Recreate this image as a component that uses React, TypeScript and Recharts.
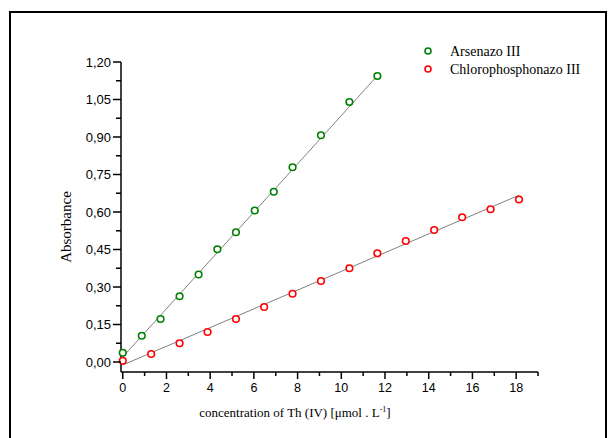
import { ScatterChart, Scatter, XAxis, YAxis, Legend, Label } from "recharts";

// Arsenazo III
const arsenazoX = [0, 0.87, 1.73, 2.6, 3.47, 4.33, 5.18, 6.04, 6.91, 7.77, 9.07, 10.37, 11.65];
const arsenazoY = [0.037, 0.105, 0.172, 0.263, 0.35, 0.451, 0.519, 0.606, 0.681, 0.779, 0.907, 1.04, 1.144];

// Chlorophosphonazo III
const chloroX = [0, 1.3, 2.6, 3.88, 5.18, 6.47, 7.77, 9.07, 10.37, 11.65, 12.95, 14.25, 15.53, 16.83, 18.13];
const chloroY = [0.005, 0.032, 0.075, 0.12, 0.172, 0.22, 0.273, 0.324, 0.375, 0.435, 0.484, 0.528, 0.579, 0.611, 0.65];

// fitted lines (end points)
const arsenazoFitX = [0, 11.65];
const arsenazoFitY = [0.02, 1.145];
const chloroFitX = [0, 18.13];
const chloroFitY = [-0.012, 0.667];

// ticks
const xTicks = [0, 1, 2, 3, 4, 5, 6, 7, 8, 9, 10, 11, 12, 13, 14, 15, 16, 17, 18, 19];
const xLabelTicks = [0, 2, 4, 6, 8, 10, 12, 14, 16, 18];
const yMajorTicks = [0, 0.15, 0.3, 0.45, 0.6, 0.75, 0.9, 1.05, 1.2];
const yMinorTicks = [0.075, 0.225, 0.375, 0.525, 0.675, 0.825, 0.975, 1.125];

const GREEN = "#008000";
const RED = "#ff0000";
const FIT = "#808080";

const zip = (xs: number[], ys: number[]) => xs.map((x, i) => ({ x, y: ys[i] }));

const arsenazoData = zip(arsenazoX, arsenazoY);
const chloroData = zip(chloroX, chloroY);
const arsenazoFit = zip(arsenazoFitX, arsenazoFitY);
const chloroFit = zip(chloroFitX, chloroFitY);

const series = [
  { name: "Arsenazo III", color: GREEN },
  { name: "Chlorophosphonazo III", color: RED },
];

const sans = "'Liberation Sans', Arial, sans-serif";
const serif = "'Liberation Serif', 'Times New Roman', serif";

const XTick = (props: any) => {
  const { x, y, payload } = props;
  const major = xLabelTicks.includes(payload.value);
  return (
    <g>
      <line x1={x} y1={y} x2={x} y2={y + (major ? 7 : 4)} stroke="#000" strokeWidth={1.5} />
      {major && (
        <text x={x} y={y + 20} textAnchor="middle" fontFamily={sans} fontSize={12.5} fill="#000">
          {payload.value}
        </text>
      )}
    </g>
  );
};

const YTick = (props: any) => {
  const { x, y, payload } = props;
  const major = yMajorTicks.some((t) => Math.abs(t - payload.value) < 1e-6);
  return (
    <g>
      <line x1={x} y1={y} x2={x - (major ? 8 : 5)} y2={y} stroke="#000" strokeWidth={1.5} />
      {major && (
        <text x={x - 10} y={y + 4.5} textAnchor="end" fontFamily={sans} fontSize={13} fill="#000">
          {payload.value.toFixed(2).replace(".", ",")}
        </text>
      )}
    </g>
  );
};

const Dot = (color: string) => (props: any) => (
  <circle cx={props.cx} cy={props.cy} r={3.3} fill="#fff" stroke={color} strokeWidth={1.6} />
);

const LegendBox = () => (
  <svg width={190} height={40}>
    {series.map((s, i) => (
      <g key={s.name}>
        <circle cx={8} cy={9 + i * 18} r={3} fill="#fff" stroke={s.color} strokeWidth={1.6} />
        <text x={30} y={14 + i * 18} fontFamily={serif} fontSize={14} fill="#000">
          {s.name}
        </text>
      </g>
    ))}
  </svg>
);

export default function App() {
  return (
    <div style={{ position: "absolute", left: 0, top: 0, width: 609, height: 438, background: "#fff", overflow: "hidden" }}>
      <div
        style={{
          position: "absolute",
          left: 9,
          top: 11,
          width: 598,
          height: 440,
          border: "2px solid #000",
          boxSizing: "border-box",
        }}
      />
      <ScatterChart width={609} height={438} margin={{ top: 62, right: 71, bottom: 0, left: 0 }}>
        <XAxis
          type="number"
          dataKey="x"
          domain={[-0.08, 19]}
          ticks={xTicks}
          interval={0}
          height={66}
          tickSize={0}
          tickMargin={0}
          tickLine={false}
          axisLine={{ stroke: "#000", strokeWidth: 1.5 }}
          tick={XTick}
        >
          <Label
            content={() => (
              <text x={295} y={417} textAnchor="middle" fontFamily={serif} fontSize={13} fill="#000">
                concentration of Th (IV) [μmol . L
                <tspan dy={-5} fontSize={8}>-1</tspan>
                <tspan dy={5}>]</tspan>
              </text>
            )}
          />
        </XAxis>
        <YAxis
          type="number"
          dataKey="y"
          domain={[-0.04, 1.2]}
          ticks={[...yMajorTicks, ...yMinorTicks].sort((a, b) => a - b)}
          interval={0}
          width={121}
          tickSize={0}
          tickMargin={0}
          tickLine={false}
          axisLine={{ stroke: "#000", strokeWidth: 1.5 }}
          tick={YTick}
        >
          <Label
            content={() => (
              <text
                x={71}
                y={227}
                transform="rotate(-90, 71, 227)"
                textAnchor="middle"
                fontFamily={serif}
                fontSize={15}
                fill="#000"
              >
                Absorbance
              </text>
            )}
          />
        </YAxis>
        <Legend
          layout="vertical"
          align="center"
          verticalAlign="middle"
          content={LegendBox}
          wrapperStyle={{ left: 420, top: 42, width: 190, height: 40 }}
        />
        <Scatter
          data={arsenazoFit}
          line={{ stroke: FIT, strokeWidth: 1 }}
          shape={() => <g />}
          legendType="none"
          isAnimationActive={false}
        />
        <Scatter
          data={chloroFit}
          line={{ stroke: FIT, strokeWidth: 1 }}
          shape={() => <g />}
          legendType="none"
          isAnimationActive={false}
        />
        <Scatter name="Arsenazo III" data={arsenazoData} fill={GREEN} shape={Dot(GREEN)} isAnimationActive={false} />
        <Scatter
          name="Chlorophosphonazo III"
          data={chloroData}
          fill={RED}
          shape={Dot(RED)}
          isAnimationActive={false}
        />
      </ScatterChart>
    </div>
  );
}
